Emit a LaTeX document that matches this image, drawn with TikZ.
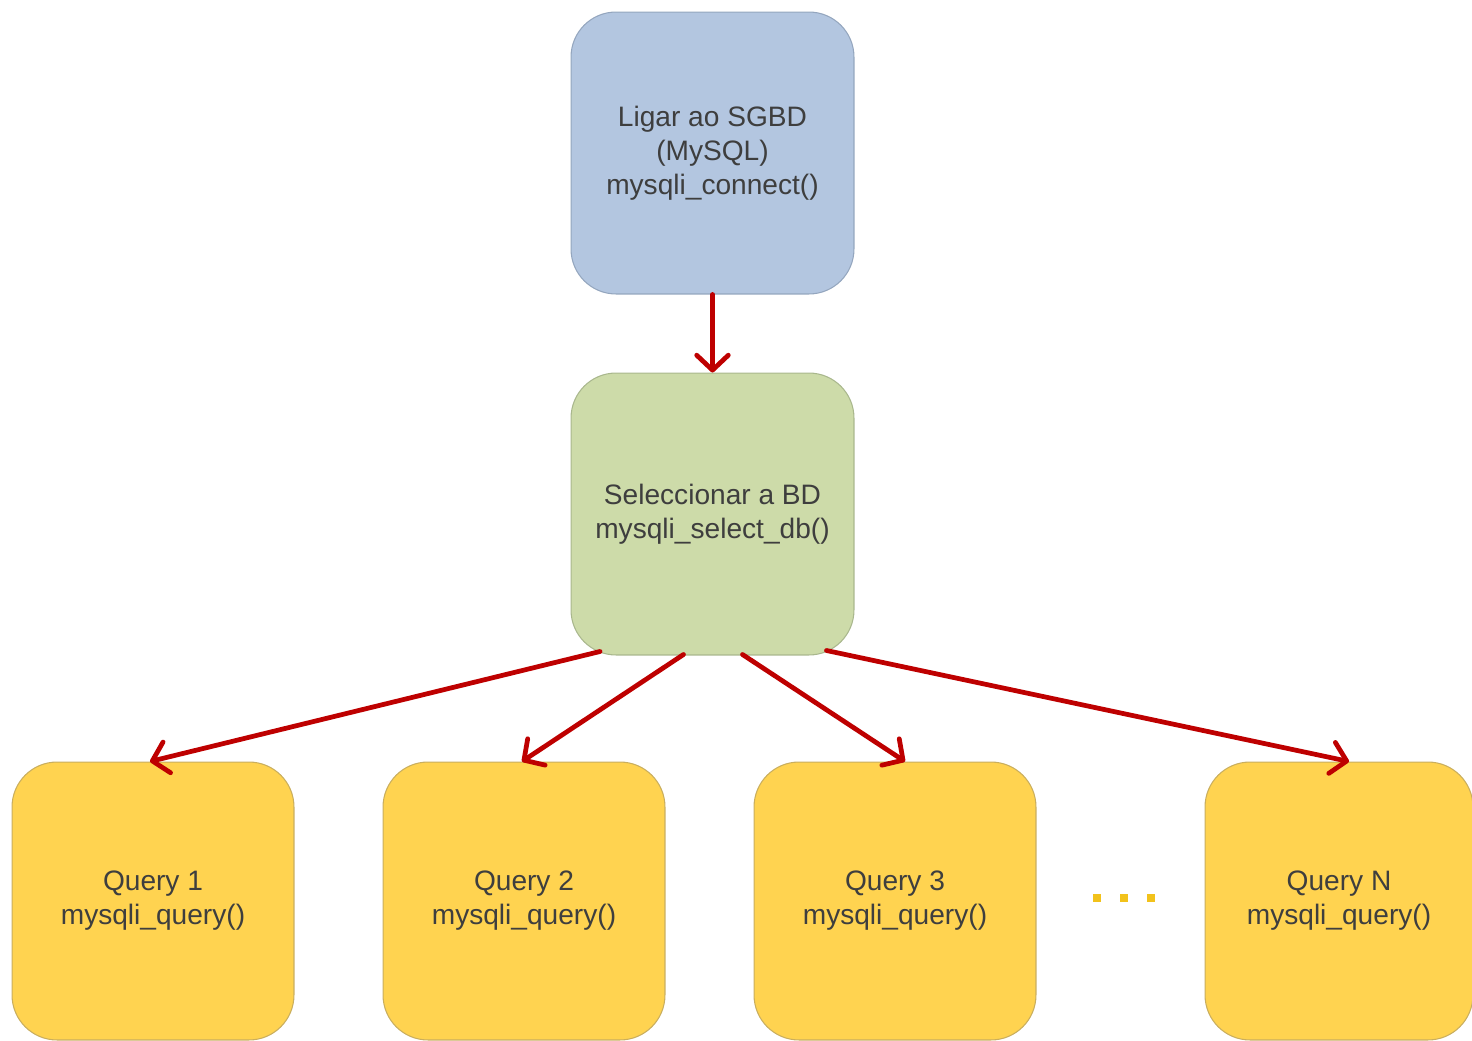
\documentclass[tikz,border=0pt]{standalone}
\usepackage{fontspec}
\setmainfont{Liberation Sans}
\usetikzlibrary{arrows.meta}
\definecolor{bluefill}{HTML}{B3C6E0}
\definecolor{blueline}{HTML}{94A6BE}
\definecolor{greenfill}{HTML}{CDDBA9}
\definecolor{greenline}{HTML}{A9B78D}
\definecolor{yellowfill}{HTML}{FFD350}
\definecolor{yellowline}{HTML}{C9AE5E}
\definecolor{arrowred}{HTML}{BE0000}
\definecolor{txt}{HTML}{3E3E3E}
\definecolor{dots}{HTML}{F2C21B}
\tikzset{
  box/.style={rectangle, rounded corners=0.9cm, line width=0.6pt, align=center,
    text=txt, font=\fontsize{16}{19.3}\selectfont, inner sep=0pt},
  bigbox/.style={box, minimum width=5.66cm, minimum height=5.64cm},
  qbox/.style={box, fill=yellowfill, draw=yellowline, minimum width=5.64cm, minimum height=5.56cm},
  conn/.style={draw=arrowred, line width=2.7pt, line cap=round,
    -{Straight Barb[length=8.5pt,width=18pt,line cap=round,line join=round]}}
}
\begin{document}
\begin{tikzpicture}[x=0.02cm,y=-0.02cm]
\useasboundingbox (0,0) rectangle (1472,1041);
\begin{scope}
\clip (0,0) rectangle (1472,1041);
\node[bigbox, fill=bluefill, draw=blueline] (top) at (712.5,153) {Ligar ao SGBD\\(MySQL)\\mysqli\_connect()};
\node[bigbox, fill=greenfill, draw=greenline] (mid) at (712.5,514) {Seleccionar a BD\\mysqli\_select\_db()};
\node[qbox] (q1) at (153,901) {\rule{0pt}{0.12cm}Query 1\\mysqli\_query()};
\node[qbox] (q2) at (524,901) {\rule{0pt}{0.12cm}Query 2\\mysqli\_query()};
\node[qbox] (q3) at (895,901) {\rule{0pt}{0.12cm}Query 3\\mysqli\_query()};
\node[qbox, minimum width=5.36cm] (qn) at (1339,901) {\rule{0pt}{0.12cm}Query N\\mysqli\_query()};
\end{scope}
\foreach \dx in {1097,1124,1151}
  \fill[dots] (\dx-4,894) rectangle (\dx+4,902);
\draw[conn] (top.south) -- (mid.north);
\draw[conn] ([xshift=-2.25cm,yshift=0.08cm]mid.south) -- ([xshift=-0.06cm]q1.north);
\draw[conn] ([xshift=-0.58cm,yshift=0.02cm]mid.south) -- ([xshift=-0.04cm]q2.north);
\draw[conn] ([xshift=0.6cm,yshift=0.02cm]mid.south) -- ([xshift=0.2cm]q3.north);
\draw[conn] ([xshift=2.28cm,yshift=0.1cm]mid.south) -- ([xshift=0.2cm]qn.north);
\end{tikzpicture}
\end{document}
